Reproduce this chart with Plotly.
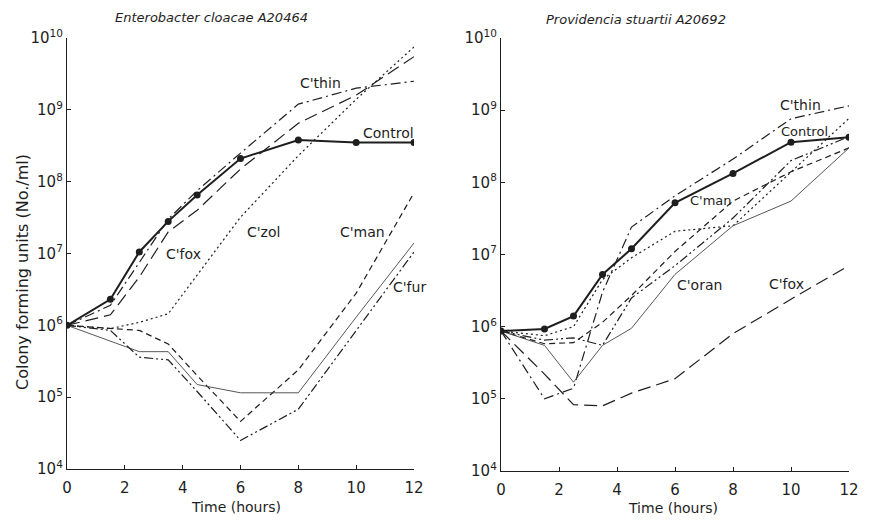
import plotly.graph_objects as go

# ---------------- data ----------------
hours = [0, 1.5, 2.5, 3.5, 4.5, 6, 8, 10, 12]

# Enterobacter cloacae A20464
ec_control = [1e6, 2.3e6, 1.05e7, 2.8e7, 6.5e7, 2.1e8, 3.8e8, 3.5e8, 3.5e8]
ec_thin = [1e6, 1.9e6, 7.5e6, 3.0e7, 7.5e7, 2.5e8, 1.2e9, 2.0e9, 2.5e9]
ec_fox = [1e6, 1.4e6, 4.7e6, 2.0e7, 4.0e7, 1.5e8, 6.5e8, 1.6e9, 5.5e9]
ec_zol = [1e6, 9e5, 1.1e6, 1.45e6, 5e6, 3.2e7, 2.3e8, 1.4e9, 7.5e9]
ec_man = [1e6, 9e5, 8.5e5, 5.5e5, 2.0e5, 4.6e4, 2.4e5, 2.8e6, 7e7]
ec_oran = [1e6, 6e5, 4.3e5, 4.3e5, 1.5e5, 1.15e5, 1.15e5, 1.3e6, 1.4e7]
ec_fur = [1e6, 8.5e5, 3.6e5, 3.3e5, 1.2e5, 2.5e4, 6.8e4, 8.5e5, 1.05e7]

# Providencia stuartii A20692
ps_control = [8.7e5, 9.3e5, 1.4e6, 5.3e6, 1.2e7, 5.2e7, 1.33e8, 3.6e8, 4.2e8]
ps_thin = [8.7e5, 1.0e5, 1.4e5, 3.0e6, 2.4e7, 6.5e7, 2.1e8, 7.6e8, 1.15e9]
ps_zol = [8.7e5, 7.5e5, 1.0e6, 4.5e6, 9e6, 2.1e7, 2.5e7, 1.4e8, 7.7e8]
ps_man = [8.7e5, 5.8e5, 6.0e5, 1.15e6, 2.7e6, 1.1e7, 5.5e7, 1.4e8, 3.0e8]
ps_oran = [8.7e5, 5.5e5, 1.7e5, 5.5e5, 9.5e5, 5.3e6, 2.5e7, 5.5e7, 3.0e8]
ps_fur = [8.7e5, 6.5e5, 7.0e5, 5.5e5, 2.5e6, 7.0e6, 3.2e7, 2.0e8, 4.3e8]
ps_fox = [8.7e5, 2.2e5, 8.3e4, 8.0e4, 1.2e5, 1.9e5, 8.0e5, 2.4e6, 7.0e6]

x_ticks = [0, 2, 4, 6, 8, 10, 12]
x_ticktext = ["0", "2", "4", "6", "8", "10", "12"]
y_ticks = [1e4, 1e5, 1e6, 1e7, 1e8, 1e9, 1e10]
y_ticktext = ["10<sup>4</sup>", "10<sup>5</sup>", "10<sup>6</sup>", "10<sup>7</sup>",
              "10<sup>8</sup>", "10<sup>9</sup>", "10<sup>10</sup>"]

# ---------------- styles ----------------
INK = "#1e1e1e"
FONT = "DejaVu Sans"
styles = {
    "control": dict(color=INK, width=2.0, dash="solid"),
    "thin": dict(color=INK, width=1.2, dash="10px,4px,2px,4px"),
    "fox": dict(color=INK, width=1.2, dash="13px,6px"),
    "zol": dict(color=INK, width=1.2, dash="2px,3px"),
    "man": dict(color=INK, width=1.2, dash="6px,4px"),
    "oran": dict(color="#444444", width=0.9, dash="solid"),
    "fur": dict(color=INK, width=1.2, dash="9px,3px,2px,3px,2px,3px"),
}

fig = go.Figure()

def add(y, key, xa, ya, markers=False):
    fig.add_trace(go.Scatter(
        x=hours, y=y, xaxis=xa, yaxis=ya,
        mode="lines+markers" if markers else "lines",
        line=styles[key],
        marker=dict(size=7, color=INK) if markers else None,
        showlegend=False, hoverinfo="skip",
    ))

for y, k in [(ec_thin, "thin"), (ec_fox, "fox"), (ec_zol, "zol"), (ec_man, "man"),
             (ec_oran, "oran"), (ec_fur, "fur")]:
    add(y, k, "x", "y")
add(ec_control, "control", "x", "y", markers=True)

for y, k in [(ps_thin, "thin"), (ps_zol, "zol"), (ps_man, "man"), (ps_oran, "oran"),
             (ps_fur, "fur"), (ps_fox, "fox")]:
    add(y, k, "x2", "y2")
add(ps_control, "control", "x2", "y2", markers=True)

# page body has an 8px margin: figure is drawn offset by 8px
OFF = 8
W, H = 896 - 2 * OFF, 524 - 2 * OFF

def xdom(a, b):
    return [(a - OFF) / W, (b - OFF) / W]

def ydom(top, bottom):
    return [1 - (bottom - OFF) / H, 1 - (top - OFF) / H]

axis_common = dict(showline=True, linecolor=INK, linewidth=1.3, showgrid=False,
                   zeroline=False, ticks="inside", ticklen=4, tickcolor=INK,
                   automargin=False,
                   tickfont=dict(family=FONT, size=15, color=INK))

fig.update_layout(
    width=W, height=H,
    margin=dict(l=0, r=0, t=0, b=0, autoexpand=False),
    paper_bgcolor="white", plot_bgcolor="white",
    xaxis=dict(domain=xdom(67, 414), range=[0, 12], anchor="y", ticklabelstandoff=5,
               tickmode="array", tickvals=x_ticks, ticktext=x_ticktext, **axis_common),
    yaxis=dict(domain=ydom(38, 469), type="log", range=[4, 10], anchor="x",
               tickmode="array", tickvals=y_ticks, ticktext=y_ticktext, **axis_common),
    xaxis2=dict(domain=xdom(501, 849), range=[0, 12], anchor="y2", ticklabelstandoff=5,
                tickmode="array", tickvals=x_ticks, ticktext=x_ticktext, **axis_common),
    yaxis2=dict(domain=ydom(38, 471), type="log", range=[4, 10], anchor="x2",
                tickmode="array", tickvals=y_ticks, ticktext=y_ticktext, **axis_common),
)

ann = []

def label(text, x, ly, xr, yr, size=14):
    ann.append(dict(text=text, x=x, y=ly, xref=xr, yref=yr, showarrow=False,
                    xanchor="center", yanchor="middle",
                    font=dict(family=FONT, size=size, color=INK)))

# left panel labels (y in log10 units)
label("C'thin", 8.77, 9.38, "x", "y")
label("Control", 11.13, 8.68, "x", "y")
label("C'zol", 6.79, 7.30, "x", "y")
label("C'fox", 4.02, 6.99, "x", "y")
label("C'man", 10.21, 7.30, "x", "y")
label("C'oran", 12.3, 7.30, "x", "y")
label("C'fur", 11.85, 6.53, "x", "y")
# right panel labels
label("C'thin", 10.34, 9.07, "x2", "y2")
label("C'zol", 12.45, 8.90, "x2", "y2", size=13)
label("Control", 10.48, 8.70, "x2", "y2", size=13)
label("C'fur", 12.72, 8.63, "x2", "y2")
label("C'man", 7.24, 7.75, "x2", "y2", size=13)
label("C'oran", 6.86, 6.58, "x2", "y2")
label("C'fox", 9.83, 6.59, "x2", "y2")

def paper_text(text, px, py, size, italic=False, angle=0):
    ann.append(dict(text=("<i>%s</i>" % text) if italic else text,
                    x=(px - OFF) / W, y=1 - (py - OFF) / H, xref="paper", yref="paper",
                    xanchor="center", yanchor="middle",
                    showarrow=False, textangle=angle,
                    font=dict(family=FONT, size=size, color=INK)))

paper_text("Enterobacter cloacae A20464", 211, 18, 13, italic=True)
paper_text("Providencia stuartii A20692", 636, 20, 13, italic=True)
paper_text("Colony forming units (No./ml)", 22, 272, 16, angle=-90)
paper_text("Time (hours)", 236, 507, 14)
paper_text("Time (hours)", 673, 508, 14)

fig.update_layout(annotations=ann)

fig.write_html("out.html")
